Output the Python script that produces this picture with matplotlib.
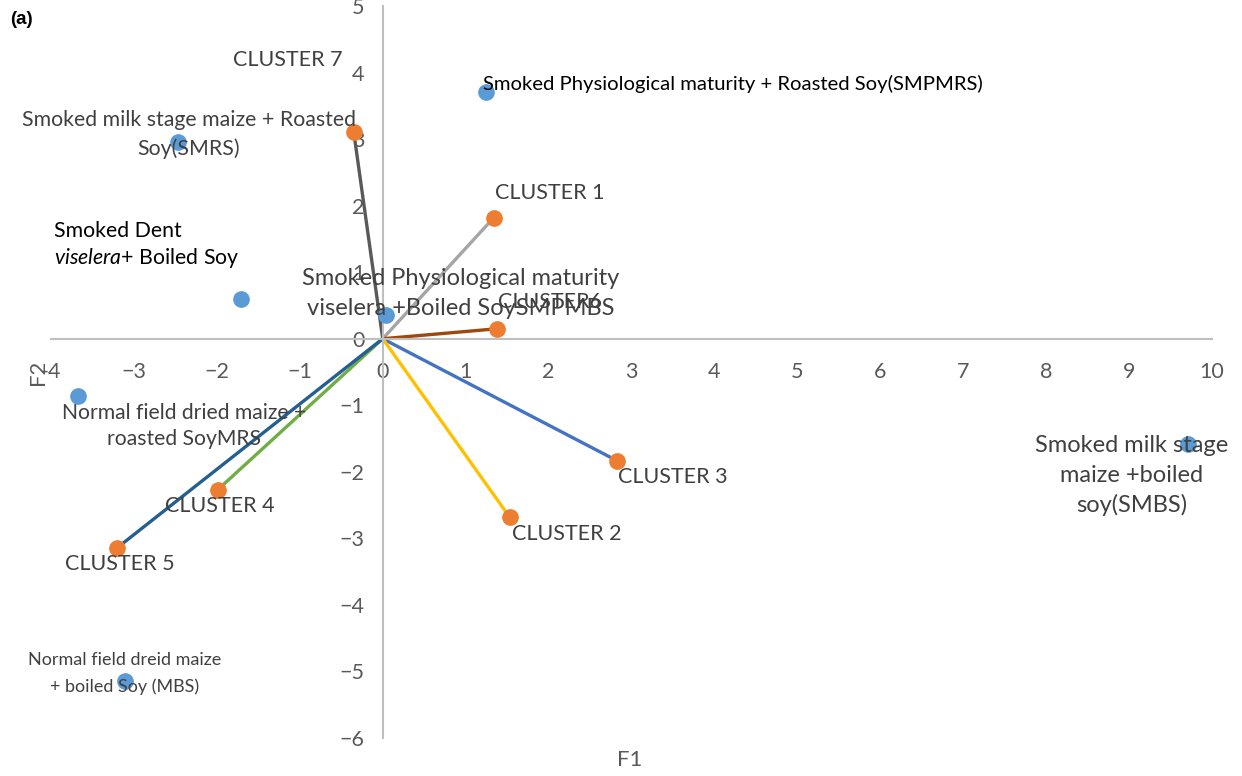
import matplotlib
matplotlib.use("Agg")
import matplotlib.pyplot as plt

plt.rcParams['font.family'] = ['Lato', 'DejaVu Sans']
plt.rcParams['mathtext.fontset'] = 'custom'
plt.rcParams['mathtext.rm'] = 'Lato'
plt.rcParams['mathtext.it'] = 'Lato:italic'

# Observations (blue points)
obs_names = [
    "Smoked Physiological maturity + Roasted Soy(SMPMRS)",
    "Smoked milk stage maize + Roasted\nSoy(SMRS)",
    "Smoked Dent\n$\\mathit{viselera}$+ Boiled Soy",
    "Smoked Physiological maturity\nviselera +Boiled SoySMPMBS",
    "Normal field dried maize +\nroasted SoyMRS",
    "Normal field dreid maize\n+ boiled Soy (MBS)",
    "Smoked milk stage\nmaize +boiled\nsoy(SMBS)",
]
obs_f1 = [1.24, -2.47, -1.71, 0.04, -3.67, -3.11, 9.71]
obs_f2 = [3.71, 2.96, 0.59, 0.35, -0.86, -5.14, -1.58]

# Cluster vectors (orange points)
clu_names = ["CLUSTER 7", "CLUSTER 1", "CLUSTER6", "CLUSTER 3", "CLUSTER 2", "CLUSTER 4", "CLUSTER 5"]
clu_f1 = [-0.35, 1.34, 1.38, 2.82, 1.53, -1.99, -3.20]
clu_f2 = [3.11, 1.82, 0.15, -1.83, -2.68, -2.27, -3.14]
clu_colors = ["#595959", "#A5A5A5", "#9E480E", "#4472C4", "#FFC000", "#70AD47", "#255E91"]

x_ticks = [-4, -3, -2, -1, 0, 1, 2, 3, 4, 5, 6, 7, 8, 9, 10]
x_ticklabels = ["-4", "\u22123", "\u22122", "\u22121", "0", "1", "2", "3", "4", "5", "6", "7", "8", "9", "10"]
y_ticks = [-6, -5, -4, -3, -2, -1, 0, 1, 2, 3, 4, 5]
y_ticklabels = ["\u22126", "\u22125", "\u22124", "\u22123", "\u22122", "\u22121", "0", "1", "2", "3", "4", "5"]

fig = plt.figure(figsize=(12.42, 7.76), dpi=100)
ax = fig.add_axes([51/1242, 1-738/776, (1212-51)/1242, (738-6)/776])
ax.set_xlim(-4, 10)
ax.set_ylim(-6, 5)

for s in ['top', 'right']:
    ax.spines[s].set_visible(False)
ax.spines['left'].set_position(('data', 0))
ax.spines['bottom'].set_position(('data', 0))
for s in ['left', 'bottom']:
    ax.spines[s].set_color('#BFBFBF')
    ax.spines[s].set_linewidth(1.5)
ax.set_xticks(x_ticks)
ax.set_xticklabels(x_ticklabels)
ax.set_yticks(y_ticks)
ax.set_yticklabels(y_ticklabels)
ax.tick_params(axis='both', length=0, labelsize=15.5, labelcolor='#595959')
ax.tick_params(axis='x', pad=17)
ax.tick_params(axis='y', pad=13)

# cluster lines
for x, y, c in zip(clu_f1, clu_f2, clu_colors):
    ax.plot([0, x], [0, y], color=c, lw=2.4, solid_capstyle='butt', zorder=2)
ax.plot(clu_f1, clu_f2, 'o', color='#ED7D31', ms=11, ls='none', zorder=3)
ax.plot(obs_f1, obs_f2, 'o', color='#5B9BD5', ms=11, ls='none', zorder=3)

# labels
clu_off = [(-66, 72), (56, 25), (53, 27), (56, -16), (57, -17), (2, -16), (2, -16)]
for name, x, y, off in zip(clu_names, clu_f1, clu_f2, clu_off):
    ax.annotate(name, (x, y), xytext=off, textcoords='offset pixels',
                ha='center', va='center', fontsize=15.5, color='#404040', zorder=4)

obs_off = [(-3, 8), (11, 7), (-187, 54), (75, 22), (106, -30), (0, 7), (-56, -32)]
obs_ha = ['left', 'center', 'left', 'center', 'center', 'center', 'center']
obs_col = ['#000000', '#404040', '#000000', '#404040', '#404040', '#404040', '#404040']
obs_fs = [14.6, 15.3, 15.3, 17, 15.2, 13, 17]
obs_ls = [1.2, 1.5, 1.32, 1.55, 1.4, 1.75, 1.48]
for name, x, y, off, ha, col, fs, ls in zip(obs_names, obs_f1, obs_f2, obs_off, obs_ha, obs_col, obs_fs, obs_ls):
    ax.annotate(name, (x, y), xytext=off, textcoords='offset pixels',
                ha=ha, va='center', multialignment=ha, fontsize=fs, color=col,
                linespacing=ls, zorder=4)

fig.text(630/1242, 1-760/776, "F1", ha='center', va='center', fontsize=16, color='#595959')
fig.text(38/1242, 1-372/776, "F2", ha='center', va='center', fontsize=16, color='#595959', rotation=90)
fig.text(10/1242, 1-20/776, "(a)", ha='left', va='center', fontsize=13.5, fontweight='bold',
         family='Liberation Sans', color='#000000')

fig.savefig("out.png", dpi=100)
